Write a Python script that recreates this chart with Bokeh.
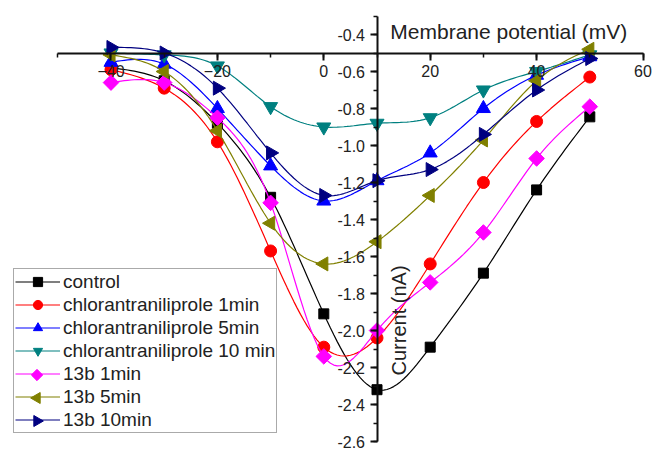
import numpy as np
from bokeh.plotting import figure
from bokeh.models import (Range1d, LinearAxis, SingleIntervalTicker, PrintfTickFormatter,
                          Legend, LegendItem, Label)
from bokeh.embed import file_html
from bokeh.resources import INLINE

# Data
voltage = [-40, -30, -20, -10, 0, 10, 20, 30, 40, 50]
control = [-0.58, -0.65, -0.88, -1.28, -1.91, -2.32, -2.09, -1.69, -1.24, -0.845]
chlor_1min = [-0.59, -0.69, -0.98, -1.57, -2.09, -2.04, -1.64, -1.20, -0.87, -0.63]
chlor_5min = [-0.55, -0.56, -0.80, -1.11, -1.30, -1.19, -1.04, -0.80, -0.62, -0.52]
chlor_10min = [-0.50, -0.51, -0.57, -0.79, -0.90, -0.88, -0.85, -0.70, -0.60, -0.51]
b13_1min = [-0.66, -0.66, -0.85, -1.31, -2.14, -2.00, -1.74, -1.47, -1.07, -0.79]
b13_5min = [-0.51, -0.60, -0.92, -1.42, -1.64, -1.52, -1.27, -0.97, -0.65, -0.48]
b13_10min = [-0.47, -0.50, -0.69, -1.04, -1.27, -1.19, -1.13, -0.94, -0.70, -0.53]

labels = ["control", "chlorantraniliprole 1min", "chlorantraniliprole 5min",
          "chlorantraniliprole 10 min", "13b 1min", "13b 5min", "13b 10min"]
values = [control, chlor_1min, chlor_5min, chlor_10min, b13_1min, b13_5min, b13_10min]
colors = ["#000000", "#FF0000", "#0000FF", "#008080", "#FF00FF", "#808000", "#000080"]
markers = ["square", "circle", "triangle", "inverted_triangle", "square", "triangle", "triangle"]
angles = [0, 0, 0, 0, np.pi / 4, np.pi / 2, -np.pi / 2]
sizes = [10, 12, 14, 14, 11, 14, 14]
legend_sizes = [9, 10, 11, 11, 8, 11, 11]

W, H = 654, 451


def smooth(xs, ys, n=16):
    """Natural cubic spline through the data points (for the connecting curve only)."""
    x = np.asarray(xs, float)
    y = np.asarray(ys, float)
    k = len(x)
    h = np.diff(x)
    A = np.zeros((k, k))
    r = np.zeros(k)
    A[0, 0] = 1
    A[-1, -1] = 1
    for i in range(1, k - 1):
        A[i, i - 1] = h[i - 1]
        A[i, i] = 2 * (h[i - 1] + h[i])
        A[i, i + 1] = h[i]
        r[i] = 6 * ((y[i + 1] - y[i]) / h[i] - (y[i] - y[i - 1]) / h[i - 1])
    M = np.linalg.solve(A, r)
    xo, yo = [], []
    for i in range(k - 1):
        t = np.linspace(x[i], x[i + 1], n, endpoint=(i == k - 2))
        hi = h[i]
        s = (M[i] * (x[i + 1] - t) ** 3 / (6 * hi) + M[i + 1] * (t - x[i]) ** 3 / (6 * hi)
             + (y[i] / hi - M[i] * hi / 6) * (x[i + 1] - t)
             + (y[i + 1] / hi - M[i + 1] * hi / 6) * (t - x[i]))
        xo.extend(t)
        yo.extend(s)
    return xo, yo


p = figure(width=W, height=H, output_backend="svg", toolbar_location=None,
           x_range=Range1d(-60.77, 62.16), y_range=Range1d(-2.654, -0.2162),
           x_axis_location=None, y_axis_location=None, min_border=0)
p.outline_line_color = None
p.xgrid.visible = False
p.ygrid.visible = False
p.background_fill_color = "white"
# pixel-based ranges, used only to place the rotated legend symbols
p.extra_x_ranges = {"px": Range1d(0, W)}
p.extra_y_ranges = {"px": Range1d(H, 0)}

FONT = "Liberation Sans"

xaxis = LinearAxis(fixed_location=-0.5, bounds=(-50, 60),
                   ticker=SingleIntervalTicker(interval=20, num_minor_ticks=2))
yaxis = LinearAxis(fixed_location=10, bounds=(-2.6, -0.3),
                   ticker=SingleIntervalTicker(interval=0.2, num_minor_ticks=2),
                   formatter=PrintfTickFormatter(format="%.1f"))
for ax in (xaxis, yaxis):
    ax.axis_line_width = 2
    ax.axis_line_color = "#111111"
    ax.major_tick_line_color = "#111111"
    ax.minor_tick_line_color = "#111111"
    ax.major_tick_line_width = 2
    ax.minor_tick_line_width = 1.5
    ax.major_tick_out = 7
    ax.major_tick_in = 0
    ax.minor_tick_out = 4
    ax.minor_tick_in = 0
    ax.major_label_text_font = FONT
    ax.major_label_text_font_size = "16px"
    ax.major_label_text_color = "#222222"
    ax.major_label_standoff = 5
p.add_layout(xaxis, "below")
p.add_layout(yaxis, "left")

# legend geometry
LEG_X, LEG_Y = 13, 18          # location from bottom-left of the frame
PAD, ROW, GW = 1, 23, 45
leg_top = H - LEG_Y - (len(labels) * ROW + 2 * PAD)
glyph_cx = LEG_X + PAD + GW / 2

items = []
for i, (lab, vals, col, mk, ang, sz, lsz) in enumerate(
        zip(labels, values, colors, markers, angles, sizes, legend_sizes)):
    sx, sy = smooth(voltage, vals)
    lr = p.line(sx, sy, line_color=col, line_width=1.2)
    sr = p.scatter(voltage, vals, marker=mk, angle=ang, size=sz,
                   fill_color=col, line_color=col)
    if ang == 0:
        items.append(LegendItem(label=lab, renderers=[lr, sr]))
    else:
        items.append(LegendItem(label=lab, renderers=[lr]))
        cy = leg_top + PAD + ROW * i + ROW / 2
        p.scatter([glyph_cx], [cy], marker=mk, angle=ang, size=lsz,
                  fill_color=col, line_color=col,
                  x_range_name="px", y_range_name="px", level="overlay")

legend = Legend(items=items, location=(LEG_X, LEG_Y))
legend.margin = 0
legend.padding = PAD
legend.spacing = 0
legend.label_height = ROW
legend.glyph_height = ROW
legend.glyph_width = GW
legend.label_standoff = 3
legend.label_text_font = FONT
legend.label_text_font_size = "19px"
legend.label_text_color = "#222222"
legend.border_line_color = "#555555"
legend.border_line_width = 1.5
legend.background_fill_alpha = 0
p.add_layout(legend)

p.add_layout(Label(x=12.5, y=-0.384, text="Membrane potential (mV)",
                   text_font=FONT, text_font_size="21px", text_color="#222222",
                   text_baseline="alphabetic", text_align="left"))
p.add_layout(Label(x=14.2, y=-2.243, text="Current (nA)", angle=np.pi / 2,
                   text_font=FONT, text_font_size="20px", text_color="#222222",
                   text_baseline="alphabetic", text_align="left"))

open("out.html", "w").write(file_html(p, INLINE))
